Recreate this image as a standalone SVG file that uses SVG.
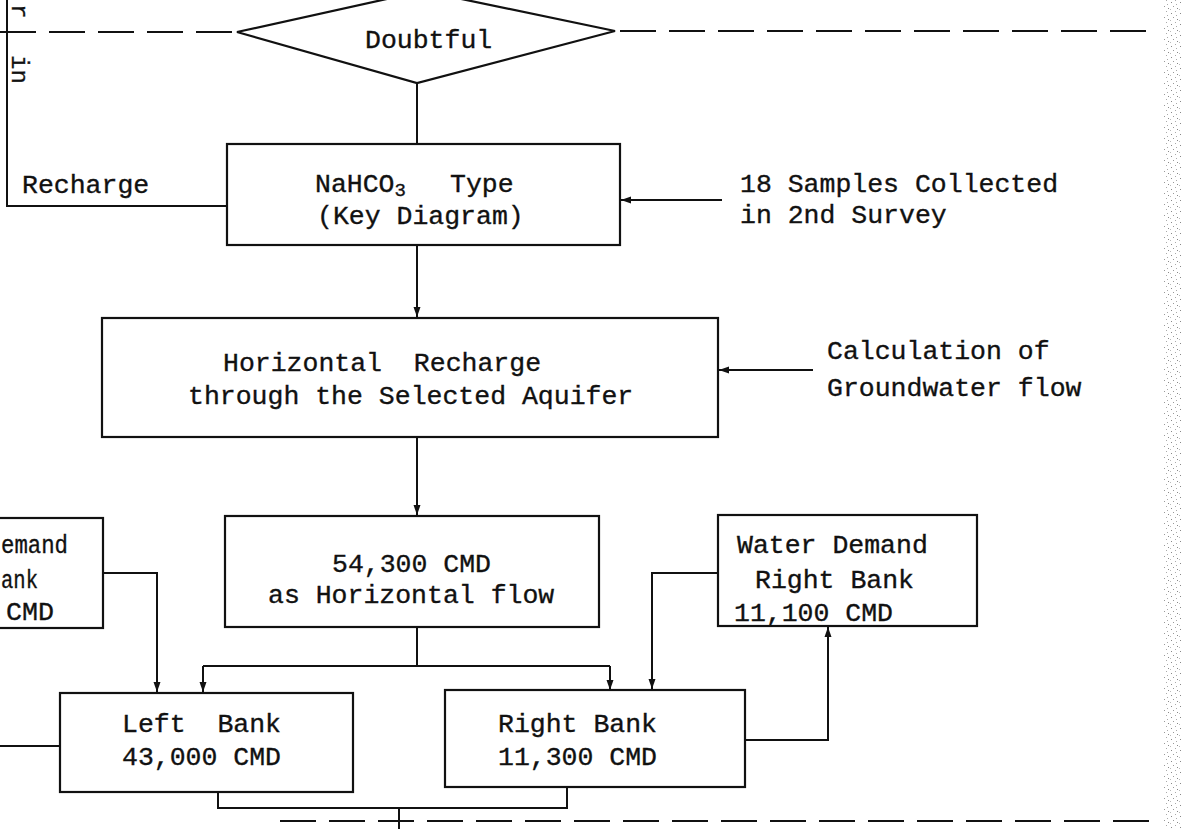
<svg xmlns="http://www.w3.org/2000/svg" width="1181" height="829" viewBox="0 0 1181 829">
  <style>
    .box { fill: #ffffff; stroke: #111111; stroke-width: 2.2; }
    .ln { fill: none; stroke: #111111; stroke-width: 2; }
    .dash { fill: none; stroke: #111111; stroke-width: 2.2; stroke-dasharray: 36 13; }
    .t { font-family: "Liberation Mono", "DejaVu Sans Mono", monospace; font-size: 26.5px; fill: #111111; stroke: #111111; stroke-width: 0.35; white-space: pre; }
    .sub { font-size: 19px; }
  </style>
  <defs>
    <marker id="arr" viewBox="0 0 10 10" refX="10" refY="5" markerWidth="5" markerHeight="5" orient="auto" markerUnits="strokeWidth">
      <path d="M0,1.5 L10,5 L0,8.5 Z" fill="#111111"/>
    </marker>
    <pattern id="speck" x="0" y="0" width="9" height="11" patternUnits="userSpaceOnUse">
      <rect x="1" y="2" width="1" height="1" fill="#888"/>
      <rect x="5" y="0" width="1" height="1" fill="#aaa"/>
      <rect x="3" y="6" width="1" height="1" fill="#999"/>
      <rect x="7" y="8" width="1" height="1" fill="#888"/>
      <rect x="0" y="9" width="1" height="1" fill="#bbb"/>
      <rect x="6" y="4" width="1" height="1" fill="#aaa"/>
    </pattern>
  </defs>

  <rect x="0" y="0" width="1181" height="829" fill="#ffffff"/>
  <rect x="1163" y="0" width="18" height="829" fill="url(#speck)"/>

  <!-- boundary dashed lines and side text -->
  <g id="boundaries">
    <path class="dash" d="M0,32 H232"/>
    <path class="dash" d="M620,31 H1158"/>
    <path class="dash" d="M280,821 H1160"/>
    <text class="t" style="font-size:24px" transform="translate(12,4) rotate(90)">r</text>
    <text class="t" style="font-size:24px" transform="translate(12,55) rotate(90)">in</text>
  </g>

  <!-- connectors -->
  <g id="connectors">
    <path class="ln" d="M7,0 V206 H227"/>
    <path class="ln" d="M417,83 V144"/>
    <path class="ln" d="M417,245 V317" marker-end="url(#arr)"/>
    <path class="ln" d="M722,200 H621" marker-end="url(#arr)"/>
    <path class="ln" d="M813,370 H719" marker-end="url(#arr)"/>
    <path class="ln" d="M417,437 V515" marker-end="url(#arr)"/>
    <path class="ln" d="M417,627 V666"/>
    <path class="ln" d="M203,666 H610"/>
    <path class="ln" d="M203,666 V692" marker-end="url(#arr)"/>
    <path class="ln" d="M610,666 V690" marker-end="url(#arr)"/>
    <path class="ln" d="M103,573 H157 V692" marker-end="url(#arr)"/>
    <path class="ln" d="M718,573 H652 V689" marker-end="url(#arr)"/>
    <path class="ln" d="M745,740 H828 V627" marker-end="url(#arr)"/>
    <path class="ln" d="M218,792 V808 H567 V787"/>
    <path class="ln" d="M399,808 V829"/>
    <path class="ln" d="M0,746 H60"/>
  </g>

  <g id="recharge-label">
    <text class="t" x="22" y="193">Recharge</text>
  </g>

  <g id="doubtful">
    <polygon class="box" points="237,32 423,-9 615,31 417,83"/>
    <text class="t" x="365" y="48">Doubtful</text>
  </g>

  <g id="nahco3">
    <rect class="box" x="227" y="144" width="393" height="101"/>
    <text class="t" x="315" y="192">NaHCO<tspan class="sub" dy="4">3</tspan><tspan x="450" dy="-4">Type</tspan></text>
    <text class="t" x="317" y="224">(Key Diagram)</text>
  </g>

  <g id="samples">
    <text class="t" x="740" y="192">18 Samples Collected</text>
    <text class="t" x="740" y="223">in 2nd Survey</text>
  </g>

  <g id="horizontal-recharge">
    <rect class="box" x="102" y="318" width="616" height="119"/>
    <text class="t" x="223" y="371">Horizontal  Recharge</text>
    <text class="t" x="188" y="404">through the Selected Aquifer</text>
  </g>

  <g id="calculation">
    <text class="t" x="827" y="359">Calculation of</text>
    <text class="t" x="827" y="396">Groundwater flow</text>
  </g>

  <g id="horizontal-flow">
    <rect class="box" x="225" y="516" width="374" height="111"/>
    <text class="t" x="332" y="572">54,300 CMD</text>
    <text class="t" x="268" y="603">as Horizontal flow</text>
  </g>

  <g id="demand-left">
    <rect class="box" x="-60" y="518" width="163" height="110"/>
    <text class="t" x="1" y="553" textLength="67" lengthAdjust="spacingAndGlyphs">emand</text>
    <text class="t" x="1" y="588" textLength="37" lengthAdjust="spacingAndGlyphs">ank</text>
    <text class="t" x="6" y="620" textLength="48" lengthAdjust="spacingAndGlyphs">CMD</text>
  </g>

  <g id="demand-right">
    <rect class="box" x="718" y="515" width="259" height="111"/>
    <text class="t" x="737" y="553">Water Demand</text>
    <text class="t" x="755" y="588">Right Bank</text>
    <text class="t" x="734" y="621">11,100 CMD</text>
  </g>

  <g id="left-bank">
    <rect class="box" x="60" y="693" width="293" height="99"/>
    <text class="t" x="122" y="732">Left  Bank</text>
    <text class="t" x="122" y="765">43,000 CMD</text>
  </g>

  <g id="right-bank">
    <rect class="box" x="445" y="690" width="300" height="97"/>
    <text class="t" x="498" y="732">Right Bank</text>
    <text class="t" x="498" y="765">11,300 CMD</text>
  </g>
</svg>
